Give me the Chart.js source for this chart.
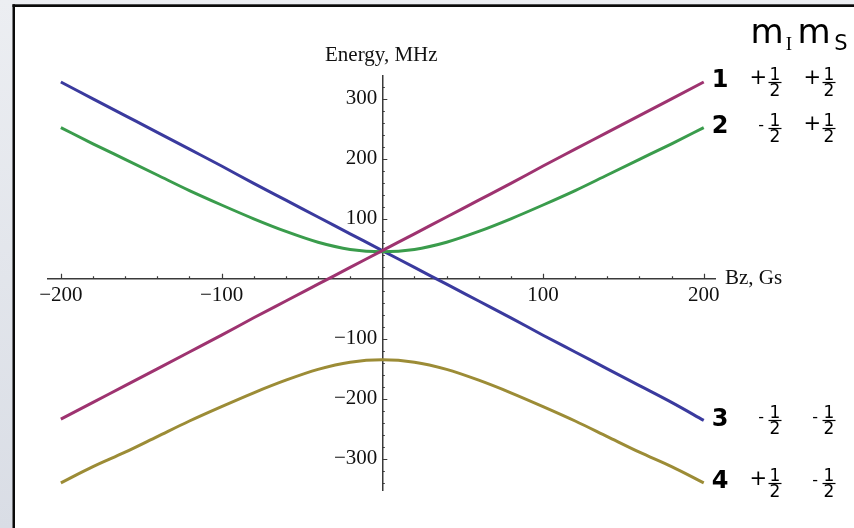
<!DOCTYPE html>
<html>
<head>
<meta charset="utf-8">
<script src="https://cdn.jsdelivr.net/npm/chart.js@4.4.1/dist/chart.umd.min.js"></script>
<style>
  html, body { margin: 0; padding: 0; background: #e6e9ee; }
  #wrap { position: relative; width: 854px; height: 528px; overflow: hidden; }
  canvas { display: block; }
</style>
</head>
<body>
<div id="wrap"><canvas id="c" width="854" height="528"></canvas></div>
<script>
// Magnetic field Bz, Gs
const fieldGs = [-200, -180, -160, -140, -120, -100, -80, -60, -40, -20, 0,
                 20, 40, 60, 80, 100, 120, 140, 160, 180, 200];

// Hyperfine level energies, MHz
const level1 = [-234, -206, -178, -150, -122, -94, -65, -37, -9, 19, 47,
                75, 103, 131, 159, 188, 216, 244, 272, 300, 328];
const level2 = [252, 225, 199, 173, 147, 123, 100, 79, 61, 49, 45,
                49, 61, 79, 100, 123, 147, 173, 199, 225, 252];
const level3 = [328, 300, 272, 244, 216, 188, 159, 131, 103, 75, 47,
                19, -9, -37, -65, -94, -122, -150, -178, -206, -236];
const level4 = [-340, -313, -289, -263, -237, -213, -190, -169, -151, -139, -135,
                -139, -151, -169, -190, -213, -237, -263, -289, -313, -340];

// State labels: number, m_I sign, m_S sign
const levelNames = ['1', '2', '3', '4'];
const mISigns = ['+', '-', '-', '+'];
const mSSigns = ['+', '+', '-', '-'];

const xTickLabels = [-200, -100, 100, 200];
const yTickLabels = [-300, -200, -100, 100, 200, 300];

const levels = [level1, level2, level3, level4];
const colors = ['#9e3370', '#3a9c4c', '#3a3a9e', '#9c8c36'];

const serif = '"Liberation Serif", "Times New Roman", serif';
const sans = '"DejaVu Sans", Verdana, sans-serif';

const minus = v => (v < 0 ? '\u2212' + Math.abs(v) : String(v));

// Page background and window frame
const framePlugin = {
  id: 'frame',
  beforeDraw(chart) {
    const ctx = chart.ctx;
    const w = chart.width, h = chart.height;
    ctx.save();
    const g = ctx.createLinearGradient(0, 0, 0, h);
    g.addColorStop(0, '#eceef2');
    g.addColorStop(1, '#d9dde5');
    ctx.fillStyle = g;
    ctx.fillRect(0, 0, w, h);
    ctx.fillStyle = '#ffffff';
    ctx.fillRect(15, 7, w - 15, h - 7);
    ctx.fillStyle = '#0a0a0a';
    ctx.fillRect(12.5, 4.3, w - 12.5, 2.7);
    ctx.fillRect(12.5, 4.3, 2.5, h - 4.3);
    ctx.restore();
  }
};

// Inward tick marks, energy tick labels, axis titles and state labels
const decorPlugin = {
  id: 'decor',
  afterDraw(chart) {
    const ctx = chart.ctx;
    const xs = chart.scales.x, ys = chart.scales.y;
    const x0 = xs.getPixelForValue(0), y0 = ys.getPixelForValue(0);
    ctx.save();
    ctx.strokeStyle = '#3a3a3a';
    ctx.lineWidth = 1.2;
    ctx.beginPath();
    for (let v = -200; v <= 200; v += 20) {
      if (v === 0) continue;
      const px = Math.round(xs.getPixelForValue(v)) + 0.5;
      const len = v % 100 === 0 ? 5 : 2.5;
      ctx.moveTo(px, y0);
      ctx.lineTo(px, y0 - len);
    }
    for (let v = -340; v <= 320; v += 20) {
      if (v === 0) continue;
      const py = Math.round(ys.getPixelForValue(v)) + 0.5;
      const len = v % 100 === 0 ? 5 : 2.5;
      ctx.moveTo(x0, py);
      ctx.lineTo(x0 + len, py);
    }
    ctx.stroke();

    // energy tick labels, left of the vertical axis
    ctx.fillStyle = '#111';
    ctx.font = '21px ' + serif;
    ctx.textAlign = 'right';
    ctx.textBaseline = 'middle';
    yTickLabels.forEach(v => {
      ctx.fillText(minus(v), x0 - 5, ys.getPixelForValue(v));
    });

    // axis titles
    ctx.textBaseline = 'alphabetic';
    ctx.textAlign = 'center';
    ctx.fillText('Energy, MHz', x0 - 1, chart.chartArea.top - 15);
    ctx.textAlign = 'left';
    ctx.fillText('Bz, Gs', xs.right + 10, y0 + 5);

    // header m_I m_S
    ctx.fillStyle = '#000';
    ctx.textAlign = 'center';
    ctx.font = '34px ' + sans;
    ctx.fillText('m', 767, 43);
    ctx.fillText('m', 814, 43);
    ctx.font = '19px ' + serif;
    ctx.fillText('I', 789, 50);
    ctx.font = '21px ' + sans;
    ctx.fillText('S', 841, 50);

    const fraction = (cx, barY) => {
      ctx.font = '17px ' + sans;
      ctx.textAlign = 'center';
      ctx.textBaseline = 'alphabetic';
      ctx.fillText('1', cx, barY - 2);
      ctx.fillText('2', cx, barY + 14);
      ctx.beginPath();
      ctx.lineWidth = 1.2;
      ctx.strokeStyle = '#000';
      ctx.moveTo(cx - 6.5, barY + 0.5);
      ctx.lineTo(cx + 6.5, barY + 0.5);
      ctx.stroke();
    };
    const sign = (s, rightX, barY) => {
      ctx.textAlign = 'right';
      ctx.textBaseline = 'middle';
      if (s === '+') {
        ctx.font = '21px ' + sans;
        ctx.fillText('+', rightX + 1, barY - 3);
      } else {
        ctx.font = '16px ' + sans;
        ctx.fillText('-', rightX - 2, barY - 2);
      }
    };

    levels.forEach((series, i) => {
      const yEnd = ys.getPixelForValue(series[series.length - 1]);
      ctx.fillStyle = '#000';
      ctx.font = 'bold 24px ' + sans;
      ctx.textAlign = 'center';
      ctx.textBaseline = 'middle';
      ctx.fillText(levelNames[i], 720, yEnd - 1);
      const barY = Math.round(yEnd);
      sign(mISigns[i], 766, barY);
      fraction(775, barY);
      sign(mSSigns[i], 820, barY);
      fraction(829, barY);
    });
    ctx.restore();
  }
};

new Chart(document.getElementById('c'), {
  type: 'line',
  data: {
    datasets: levels.map((series, i) => ({
      data: fieldGs.map((b, k) => ({ x: b, y: series[k] })),
      borderColor: colors[i],
      borderWidth: 3,
      pointRadius: 0,
      fill: false,
      cubicInterpolationMode: 'monotone'
    }))
  },
  options: {
    responsive: false,
    animation: false,
    devicePixelRatio: 1,
    layout: { padding: { left: 48, right: 139, top: 76, bottom: 38 } },
    plugins: { legend: { display: false }, tooltip: { enabled: false } },
    scales: {
      x: {
        type: 'linear',
        min: -208, max: 207,
        position: { y: 0 },
        grid: { display: false, drawTicks: false },
        border: { display: true, color: '#3a3a3a', width: 1.5 },
        afterBuildTicks: s => { s.ticks = xTickLabels.map(v => ({ value: v })); },
        ticks: {
          padding: 4,
          color: '#111',
          font: { family: serif, size: 21 },
          maxRotation: 0,
          autoSkip: false,
          callback: v => minus(v)
        }
      },
      y: {
        type: 'linear',
        min: -352, max: 338,
        position: { x: 0 },
        grid: { display: false, drawTicks: false },
        border: { display: true, color: '#3a3a3a', width: 1.5 },
        afterBuildTicks: s => { s.ticks = yTickLabels.map(v => ({ value: v })); },
        ticks: { display: false }
      }
    }
  },
  plugins: [framePlugin, decorPlugin]
});
</script>
</body>
</html>
